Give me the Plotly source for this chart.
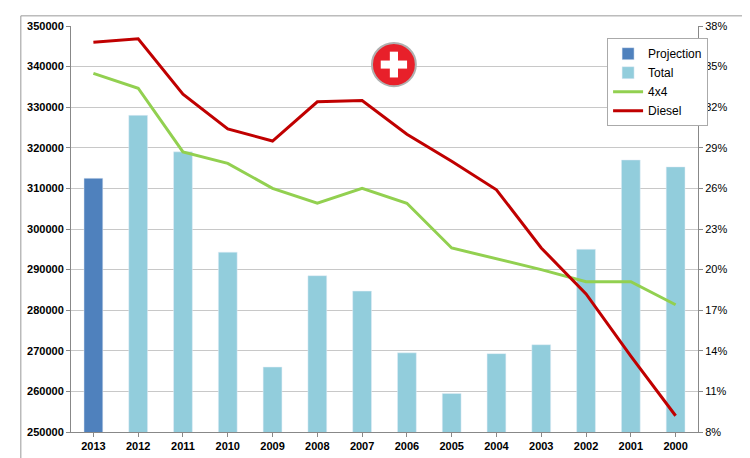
import plotly.graph_objects as go

years = ["2013","2012","2011","2010","2009","2008","2007","2006","2005","2004","2003","2002","2001","2000"]
projection = [312500]
total = [328000,319000,294300,266000,288500,284700,269500,259500,269300,271500,295000,317000,315300]
four_x4 = [34.5,33.4,28.7,27.85,26.0,24.9,26.0,24.9,21.6,20.8,20.0,19.1,19.1,17.4]
diesel = [36.8,37.05,32.96,30.4,29.5,32.4,32.5,30.0,28.0,25.9,21.6,18.2,13.6,9.2]
left_ticks = list(range(250000,350001,10000))
right_ticks = list(range(8,39,3))

fig = go.Figure()
fig.add_bar(x=years[:1], y=projection, name="Projection", marker_color="#4F81BD", width=0.42)
fig.add_bar(x=years[1:], y=total, name="Total", marker_color="#92CDDC", width=0.42)
fig.add_scatter(x=years, y=four_x4, name="4x4", yaxis="y2", mode="lines", line=dict(color="#92D050", width=3))
fig.add_scatter(x=years, y=diesel, name="Diesel", yaxis="y2", mode="lines", line=dict(color="#C00000", width=3))

fig.add_annotation(x=years[0], y=diesel[0], xref="x", yref="y2", text="<b>36.80%</b>", showarrow=False,
                   font=dict(color="#C00000", size=12), xshift=18, yshift=-13)
fig.add_annotation(x=years[0], y=four_x4[0], xref="x", yref="y2", text="<b>34.50%</b>", showarrow=False,
                   font=dict(color="#92D050", size=12), xshift=10, yshift=-15)

# Swiss flag icon
cx, cy, r = 0.515, 0.905, 0.035
k = 627/411
fig.add_shape(type="circle", xref="paper", yref="paper", x0=cx-r, x1=cx+r, y0=cy-r*k, y1=cy+r*k,
              fillcolor="#E8202A", line=dict(color="#B0B0B0", width=2))
a, b = 0.0065, 0.021
fig.add_shape(type="rect", xref="paper", yref="paper", x0=cx-a, x1=cx+a, y0=cy-b*k*0.62*1.6, y1=cy+b*k*0.62*1.6,
              fillcolor="white", line_width=0)
fig.add_shape(type="rect", xref="paper", yref="paper", x0=cx-b, x1=cx+b, y0=cy-a*k, y1=cy+a*k,
              fillcolor="white", line_width=0)

fig.update_layout(
    width=750, height=458, paper_bgcolor="white", plot_bgcolor="white",
    margin=dict(l=63, r=60, t=13, b=34),
    barmode="overlay", font=dict(family="Liberation Sans", size=11, color="black"),
    xaxis=dict(type="category", categoryorder="array", categoryarray=years, range=[-0.5, 13.5],
               tickfont=dict(size=11, family="Liberation Sans"), showline=True,
               linecolor="#888", ticks="outside", ticklen=4, tickcolor="#888",
               tickvals=years, ticktext=[f"<b>{y}</b>" for y in years]),
    yaxis=dict(range=[250000,350000], tickvals=left_ticks, ticktext=[f"<b>{v}</b>" for v in left_ticks],
               showgrid=True, gridcolor="#C8C8C8", showline=True, linecolor="#888", ticks="outside", ticklen=4,
               tickcolor="#888"),
    yaxis2=dict(overlaying="y", side="right", range=[8,38], tickvals=right_ticks,
                ticktext=[f"{v}%" for v in right_ticks], showgrid=False, showline=True, linecolor="#888",
                ticks="outside", ticklen=4, tickcolor="#888"),
    legend=dict(x=0.855, y=0.97, xanchor="left", yanchor="top", bgcolor="white", bordercolor="#AAA",
                borderwidth=1, font=dict(size=12), tracegroupgap=0, itemwidth=30),
    showlegend=True,
)
fig.add_shape(type="rect", xref="paper", yref="paper", x0=-0.08, x1=1.085, y0=-0.075, y1=1.025,
              line=dict(color="#999", width=1), layer="below")
fig.write_html("out.html")
